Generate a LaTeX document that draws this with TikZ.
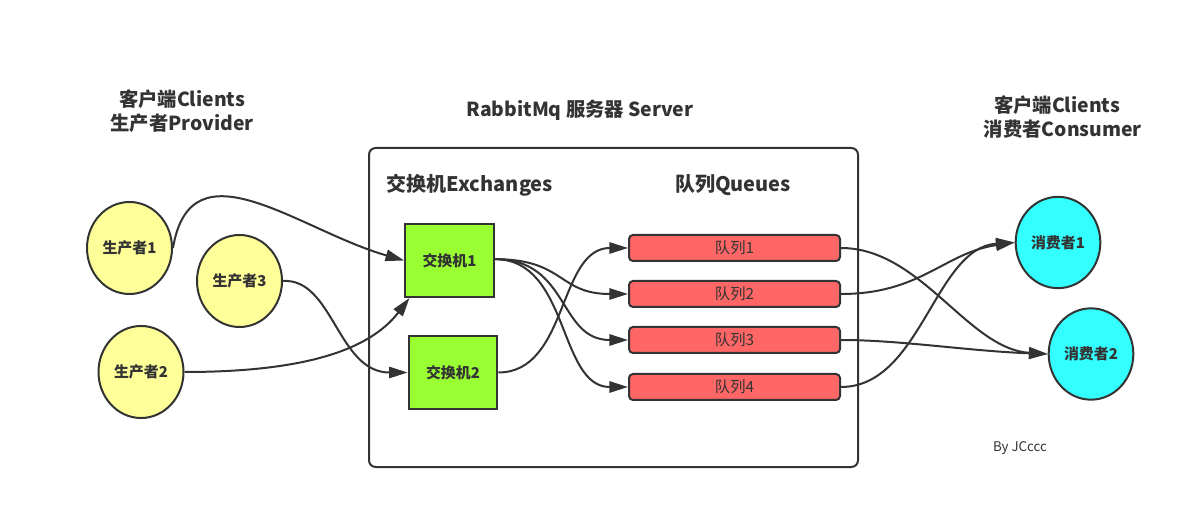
\documentclass[tikz,border=0pt]{standalone}
\usepackage{fontspec}
\setmainfont{Noto Sans CJK SC}
\usetikzlibrary{shapes.geometric,arrows.meta}
\definecolor{ln}{HTML}{333333}
\definecolor{prodfill}{HTML}{FFFF99}
\definecolor{exfill}{HTML}{99FF33}
\definecolor{qfill}{HTML}{FF6666}
\definecolor{consfill}{HTML}{33FFFF}
\tikzset{
  prod/.style={ellipse,draw=ln,line width=1.5pt,fill=prodfill,minimum width=63.75pt,minimum height=69pt,inner sep=0pt,font=\fontsize{11.2}{13}\selectfont\bfseries,text=ln},
  cons/.style={ellipse,draw=ln,line width=1.5pt,fill=consfill,minimum width=63.5pt,minimum height=68.5pt,inner sep=0pt,font=\fontsize{11.2}{13}\selectfont\bfseries,text=ln},
  exch/.style={rectangle,draw=ln,line width=1.5pt,fill=exfill,minimum width=66.5pt,minimum height=54.75pt,inner sep=0pt,font=\fontsize{11.2}{13}\selectfont\bfseries,text=ln},
  queue/.style={rectangle,rounded corners=3pt,draw=ln,line width=1.5pt,fill=qfill,minimum width=158.25pt,minimum height=19.5pt,inner sep=0pt,font=\fontsize{11.5}{13}\selectfont,text=ln},
  title/.style={font=\fontsize{14.5}{17.5}\selectfont\bfseries,text=ln,align=center,inner sep=0pt},
  subtitle/.style={font=\fontsize{15}{18}\selectfont\bfseries,text=ln,inner sep=0pt},
  conn/.style={draw=ln,line width=1.5pt,-{Triangle[length=14pt,width=8.5pt]}},
}
\begin{document}
\begin{tikzpicture}[x=0.75pt,y=-0.75pt]
\useasboundingbox (0,0) rectangle (1203,509);
% server box
\node[draw=ln,line width=1.5pt,rounded corners=5pt,minimum width=366.75pt,minimum height=239.25pt,inner sep=0pt] (server) at (613.5,307.5) {};
% titles
\node[title] (tprod) at (182,111) {客户端Clients\\生产者Provider};
\node[title] (tserv) at (580,110) {RabbitMq 服务器 Server};
\node[title] (tcons) at (1057,117) {客户端Clients\\\hspace*{0.6em}消费者Consumer};
\node[subtitle] (tex) at (470,185) {交换机Exchanges};
\node[subtitle] (tq) at (733,185) {队列Queues};
\node[font=\fontsize{10}{12}\selectfont,text=ln] (by) at (1020,448) {By JCccc};
% producers
\node[prod] (p1) at (129.5,248) {生产者1};
\node[prod] (p3) at (239.5,281) {生产者3};
\node[prod] (p2) at (141,372) {生产者2};
% exchanges
\node[exch] (e1) at (449.5,260.5) {交换机1};
\node[exch] (e2) at (453,372.5) {交换机2};
% queues
\node[queue] (q1) at (734.5,248) {队列1};
\node[queue] (q2) at (734.5,294) {队列2};
\node[queue] (q3) at (734.5,340) {队列3};
\node[queue] (q4) at (734.5,387) {队列4};
% consumers
\node[cons] (c1) at (1058,242.5) {消费者1};
\node[cons] (c2) at (1091,354) {消费者2};
% connectors
\draw[conn] (p1.east) .. controls +(18,-108) and +(-105,-30) .. (e1.west);
\draw[conn] (p2.east) .. controls +(120,0) and +(-40,52) .. ([xshift=4]e1.south west);
\draw[conn] (p3.east) .. controls +(50,-3) and +(-70,0) .. (e2.west);
\draw[conn] ([yshift=1]e1.east) .. controls +(70,0) and +(-70,0) .. (q2.west);
\draw[conn] ([yshift=1]e1.east) .. controls +(75,0) and +(-70,0) .. (q3.west);
\draw[conn] ([yshift=1]e1.east) .. controls +(75,0) and +(-70,0) .. (q4.west);
\draw[conn] (e2.east) .. controls +(70,0) and +(-70,0) .. (q1.west);
\draw[conn] (q1.east) .. controls +(80,0) and +(-80,-5) .. (c2.west);
\draw[conn] (q3.east) .. controls +(60,0) and +(-80,-3) .. (c2.west);
\draw[conn] (q2.east) .. controls +(80,0) and +(-70,10) .. (c1.west);
\draw[conn] (q4.east) .. controls +(80,0) and +(-80,5) .. (c1.west);
\end{tikzpicture}
\end{document}
